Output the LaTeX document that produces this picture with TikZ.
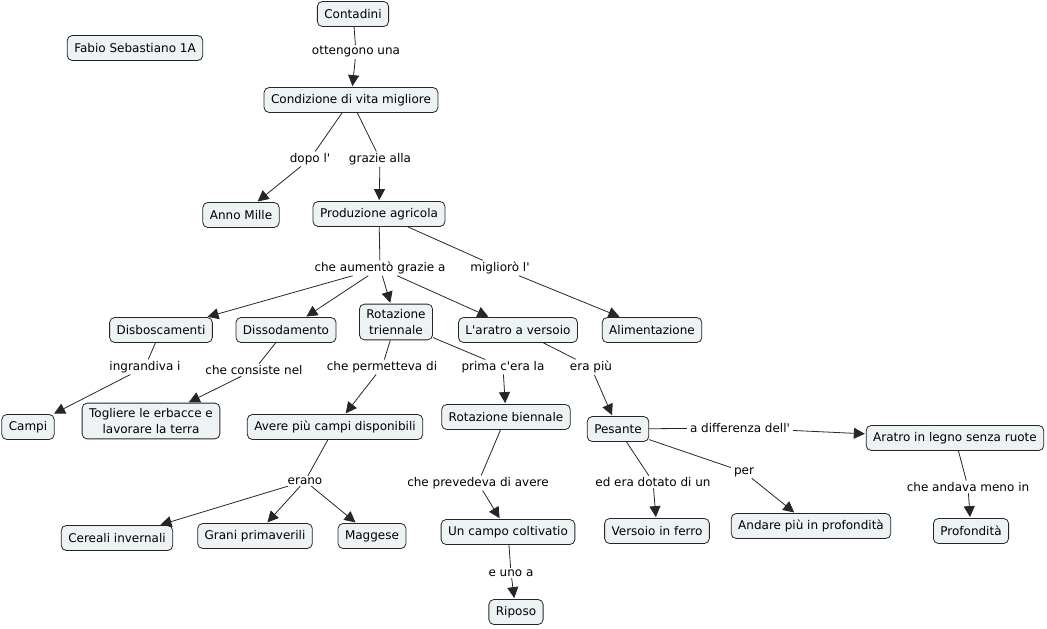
\documentclass[tikz,border=0pt]{standalone}
\usepackage{fontspec}
\setmainfont{DejaVu Sans}[Ligatures=TeXOff]
\usetikzlibrary{arrows.meta}
\tikzset{
  concept/.style={draw=black!85, fill=cfill, rounded corners=5pt, line width=0.8pt,
    inner xsep=7pt, inner ysep=4pt, minimum height=25pt, align=center,
    font=\fontsize{12}{15.5}\selectfont},
  twoline/.style={inner ysep=5.5pt},
  lbl/.style={fill=white, inner xsep=3pt, inner ysep=1.5pt, font=\fontsize{12}{14.5}\selectfont},
  ln/.style={draw=black!85, line width=0.8pt},
  arr/.style={ln, -{Triangle[length=11pt,width=11pt]}, shorten >=1pt}
}
\definecolor{cfill}{HTML}{EDF2F4}
\begin{document}
\begin{tikzpicture}[x=1pt,y=-1pt]
\useasboundingbox (0,0) rectangle (1047,629);
% concepts
\node[concept] (cont) at (353,14) {Contadini};
\node[concept] (fabio) at (135,48) {Fabio Sebastiano 1A};
\node[concept] (cond) at (351,100) {Condizione di vita migliore};
\node[concept] (anno) at (241,215) {Anno Mille};
\node[concept] (prod) at (379,214) {Produzione agricola};
\node[concept] (disb) at (161,330) {Disboscamenti};
\node[concept] (diss) at (286,330) {Dissodamento};
\node[concept, twoline] (rott) at (396,322) {Rotazione\\triennale};
\node[concept] (arat) at (518,330) {L'aratro a versoio};
\node[concept] (alim) at (652,330) {Alimentazione};
\node[concept] (campi) at (28,427) {Campi};
\node[concept, twoline] (togl) at (151,421) {Togliere le erbacce e\\lavorare la terra};
\node[concept] (aver) at (335,427) {Avere più campi disponibili};
\node[concept] (rotb) at (506,417) {Rotazione biennale};
\node[concept] (pes) at (618,429) {Pesante};
\node[concept] (arleg) at (955,438) {Aratro in legno senza ruote};
\node[concept] (cer) at (117,538) {Cereali invernali};
\node[concept] (gran) at (255,536) {Grani primaverili};
\node[concept] (mag) at (372,536) {Maggese};
\node[concept] (unc) at (508,532) {Un campo coltivatio};
\node[concept] (rip) at (516,612) {Riposo};
\node[concept] (vers) at (657,531) {Versoio in ferro};
\node[concept] (and) at (811,526) {Andare più in profondità};
\node[concept] (prof) at (971,531) {Profondità};
% labels
\node[lbl] (l1) at (356,52) {ottengono una};
\node[lbl] (l2) at (310,159) {dopo l'};
\node[lbl] (l3) at (380,159) {grazie alla};
\node[lbl] (l4) at (380,268) {che aumentò grazie a};
\node[lbl] (l5) at (500,268) {migliorò l'};
\node[lbl] (l6) at (145,367) {ingrandiva i};
\node[lbl] (l7) at (254,370) {che consiste nel};
\node[lbl] (l8) at (382,367) {che permetteva di};
\node[lbl] (l9) at (503,367) {prima c'era la};
\node[lbl] (l10) at (591,367) {era più};
\node[lbl] (l11) at (305,481) {erano};
\node[lbl] (l12) at (478,483) {che prevedeva di avere};
\node[lbl] (l13) at (740,428) {a differenza dell'};
\node[lbl] (l14) at (653,482) {ed era dotato di un};
\node[lbl] (l15) at (744,472) {per};
\node[lbl] (l16) at (968,487) {che andava meno in};
\node[lbl] (l17) at (511,573) {e uno a};
% connectors
\draw[ln] (cont) -- (l1); \draw[arr] (l1) -- (cond);
\draw[ln] (cond) -- (l2); \draw[arr] (l2) -- (anno);
\draw[ln] (cond) -- (l3); \draw[arr] (l3) -- (prod);
\draw[ln] (prod) -- (l4);
\draw[arr] (l4) -- (disb);
\draw[arr] (l4) -- (diss);
\draw[arr] (l4) -- (rott);
\draw[arr] (l4) -- (arat);
\draw[ln] (prod) -- (l5); \draw[arr] (l5) -- (alim);
\draw[ln] (disb) -- (l6); \draw[arr] (l6) -- (campi);
\draw[ln] (diss) -- (l7); \draw[arr] (l7) -- (togl);
\draw[ln] (rott) -- (l8); \draw[arr] (l8) -- (aver);
\draw[ln] (rott) -- (l9); \draw[arr] (l9) -- (rotb);
\draw[ln] (arat) -- (l10); \draw[arr] (l10) -- (pes);
\draw[ln] (aver) -- (l11);
\draw[arr] (l11) -- (cer);
\draw[arr] (l11) -- (gran);
\draw[arr] (l11) -- (mag);
\draw[ln] (rotb) -- (l12); \draw[arr] (l12) -- (unc);
\draw[ln] (unc) -- (l17); \draw[arr] (l17) -- (rip);
\draw[ln] (pes) -- (l13); \draw[arr] (l13) -- (arleg);
\draw[ln] (pes) -- (l14); \draw[arr] (l14) -- (vers);
\draw[ln] (pes) -- (l15); \draw[arr] (l15) -- (and);
\draw[ln] (arleg) -- (l16); \draw[arr] (l16) -- (prof);
\end{tikzpicture}
\end{document}
